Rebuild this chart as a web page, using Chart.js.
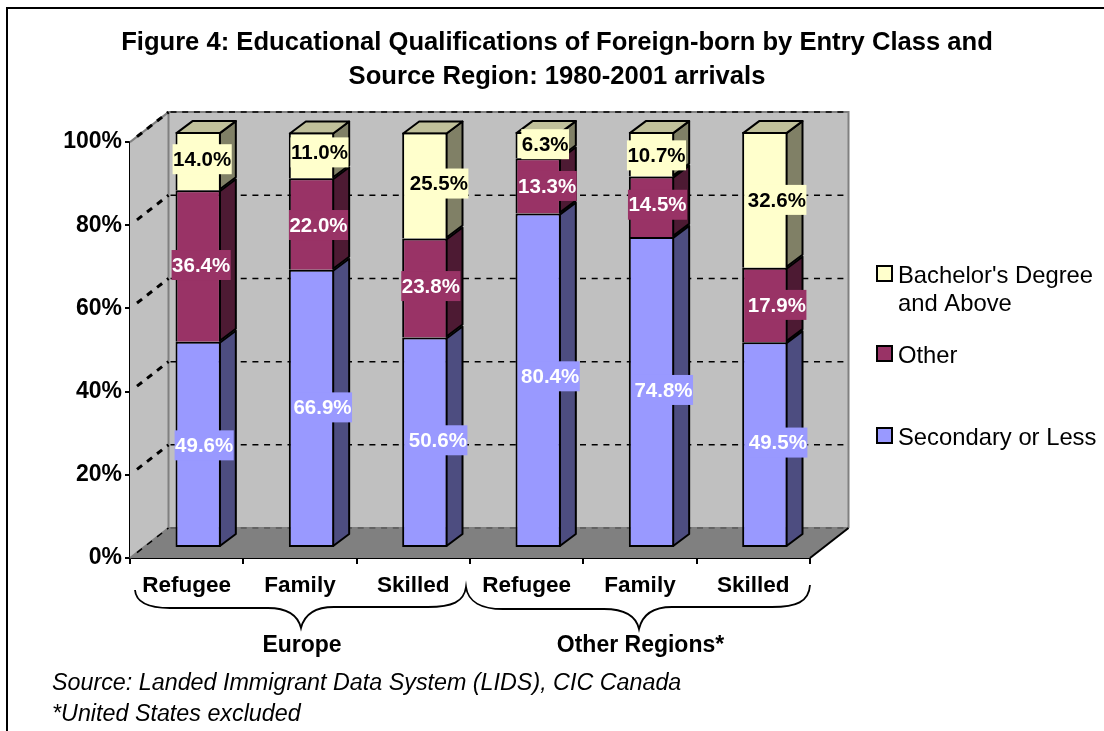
<!DOCTYPE html>
<html><head><meta charset="utf-8">
<style>html,body{margin:0;padding:0;background:#fff}canvas{display:block}</style>
<script src="https://cdn.jsdelivr.net/npm/chart.js@4"></script>
</head><body><canvas id="c" width="1104" height="731"></canvas>
<script>
const categories = ['Refugee','Family','Skilled','Refugee','Family','Skilled'];
const secondaryOrLess = [49.6,66.9,50.6,80.4,74.8,49.5];
const otherEducation = [36.4,22.0,23.8,13.3,14.5,17.9];
const bachelorAndAbove = [14.0,11.0,25.5,6.3,10.7,32.6];
const yTicks = [0,20,40,60,80,100];
const titleLines = ['Figure 4: Educational Qualifications of Foreign-born by Entry Class and','Source Region: 1980-2001 arrivals'];
const groupLabels = ['Europe','Other Regions*'];
const footnotes = ['Source: Landed Immigrant Data System (LIDS), CIC Canada','*United States excluded'];
const legendLines = [["Bachelor's Degree",'and Above'],['Other'],['Secondary or Less']];

const FONT='"Liberation Sans", Arial, sans-serif';
const WALL={dx:38.5,dy:30}, SHIFT={x:11.5,y:-10}, SIDE={x:16,y:12};
const COLORS=[{f:'#9999FF',s:'#4D4D80',t:'#fff'},{f:'#993366',s:'#4D1A33',t:'#fff'},{f:'#FFFFCC',s:'#808066',top:'#C0C09A',t:'#000'}];
// hand placement of each data label relative to its segment (series, then bar)
const NUDGE_X=[[6,11,13,12,12,13],[3,7,6,9,6,12],[4,8,14,7,5,12]];
const NUDGE_Y=[[1,-1,-2,-4,-2,-2],[-1,1,-2,0,-2,0],[-2,-3,-2,-1,1,0]];

function poly(ctx,pts,fill,stroke,lw){
  ctx.beginPath();pts.forEach((p,i)=>i?ctx.lineTo(p[0],p[1]):ctx.moveTo(p[0],p[1]));ctx.closePath();
  if(fill){ctx.fillStyle=fill;ctx.fill();}
  if(stroke){ctx.strokeStyle=stroke;ctx.lineWidth=lw||1;ctx.stroke();}
}
const scene={
  id:'scene',
  beforeDraw(chart){
    const c=chart.ctx;c.save();
    c.fillStyle='#fff';c.fillRect(0,0,chart.width,chart.height);
    c.strokeStyle='#000';c.lineWidth=2;c.beginPath();c.moveTo(7,731);c.lineTo(7,8);c.lineTo(1104,8);c.stroke();
    c.restore();
  },
  beforeDatasetsDraw(chart){
    const c=chart.ctx,a=chart.chartArea,{dx,dy}=WALL,ys=chart.scales.y;
    c.save();
    // walls and floor
    poly(c,[[a.left,a.bottom],[a.left+dx,a.bottom-dy],[a.left+dx,a.top-dy],[a.left,a.top]],'#C0C0C0');
    poly(c,[[a.left+dx,a.top-dy],[a.right+dx,a.top-dy],[a.right+dx,a.bottom-dy],[a.left+dx,a.bottom-dy]],'#C0C0C0');
    poly(c,[[a.left,a.bottom],[a.right,a.bottom],[a.right+dx,a.bottom-dy],[a.left+dx,a.bottom-dy]],'#808080');
    c.strokeStyle='#808080';c.lineWidth=2;
    c.beginPath();c.moveTo(a.left,a.top);c.lineTo(a.left+dx,a.top-dy);c.lineTo(a.right+dx,a.top-dy);c.lineTo(a.right+dx,a.bottom-dy);c.stroke();
    c.beginPath();c.moveTo(a.left+dx,a.top-dy);c.lineTo(a.left+dx,a.bottom-dy);c.lineTo(a.right+dx,a.bottom-dy);c.stroke();
    c.beginPath();c.moveTo(a.left,a.bottom);c.lineTo(a.left+dx,a.bottom-dy);c.stroke();
    c.strokeStyle='#000';c.beginPath();c.moveTo(a.right,a.bottom);c.lineTo(a.right+dx,a.bottom-dy);c.stroke();
    // grid lines
    yTicks.forEach(v=>{
      const y=ys.getPixelForValue(v);
      c.lineWidth=v===0?1:1.5;c.setLineDash([6,5.7]);
      c.strokeStyle=v===0?'#444':'#000';
      c.beginPath();c.moveTo(a.left+dx+2,y-dy);c.lineTo(a.right+dx,y-dy);c.stroke();
      c.strokeStyle='#000';
      c.lineWidth=v===0?1.5:3;c.setLineDash([6.4,6.3]);
      c.beginPath();c.moveTo(a.left+7,y-7*dy/dx);c.lineTo(a.left+dx,y-dy);c.stroke();
    });
    c.setLineDash([]);
    c.restore();
    // bars are stood back on the floor: side faces first, Chart.js draws the fronts
    c.save();
    c.translate(SHIFT.x,SHIFT.y);
    c.lineJoin='round';
    chart.data.datasets.forEach((ds,di)=>{
      chart.getDatasetMeta(di).data.forEach(b=>{
        const r=b.x+b.width/2-1,l=b.x-b.width/2+1,t=b.y+1,bs=b.base-1;
        poly(c,[[r,t],[r+SIDE.x,t-SIDE.y],[r+SIDE.x,bs-SIDE.y],[r,bs]],COLORS[di].s,'#000',2);
        if(di===chart.data.datasets.length-1)
          poly(c,[[l,t],[l+SIDE.x,t-SIDE.y],[r+SIDE.x,t-SIDE.y],[r,t]],COLORS[di].top,'#000',2);
      });
    });
  },
  afterDatasetsDraw(chart){
    const c=chart.ctx;
    c.restore();
    c.save();
    // data labels
    c.font='bold 20.5px '+FONT;c.textAlign='center';c.textBaseline='middle';
    chart.data.datasets.forEach((ds,di)=>{
      chart.getDatasetMeta(di).data.forEach((b,i)=>{
        const txt=ds.data[i].toFixed(1)+'%';
        const x=b.x+SHIFT.x+NUDGE_X[di][i],y=(b.y+b.base)/2+SHIFT.y+NUDGE_Y[di][i];
        const w=c.measureText(txt).width+1;
        c.fillStyle=COLORS[di].f;c.fillRect(x-w/2,y-15,w,30);
        c.fillStyle=COLORS[di].t;c.fillText(txt,x,y+1);
      });
    });
    // braces under the category labels
    c.strokeStyle='#000';c.lineWidth=1.8;c.beginPath();
    c.moveTo(135,590);c.bezierCurveTo(136,603,150,608,170,608);c.lineTo(268,608);c.bezierCurveTo(288,608,298,616,301,628);
    c.bezierCurveTo(304,616,314,607,334,607);c.lineTo(428,607);c.bezierCurveTo(452,607,464,602,466,587);
    c.bezierCurveTo(468,602,482,609,503,609);c.lineTo(604,609);c.bezierCurveTo(624,609,636,616,639,629);
    c.bezierCurveTo(642,616,652,607,672,607);c.lineTo(772,607);c.bezierCurveTo(796,607,809,602,810,585);
    c.stroke();
    // group labels
    c.fillStyle='#000';c.font='bold 23px '+FONT;c.textBaseline='middle';c.textAlign='center';
    c.fillText(groupLabels[0],302,646);c.fillText(groupLabels[1],640.5,646);
    // footnotes
    c.font='italic 23.3px '+FONT;c.textAlign='left';
    c.fillText(footnotes[0],52,684);c.fillText(footnotes[1],52,715);
    // legend
    const rows=[{k:2,y:266,ty:[276,304]},{k:1,y:346,ty:[356]},{k:0,y:428,ty:[438]}];
    rows.forEach((r,ri)=>{
      c.fillStyle=COLORS[r.k].f;c.strokeStyle='#000';c.lineWidth=2;
      c.fillRect(877,r.y,15,15);c.strokeRect(877,r.y,15,15);
      c.fillStyle='#000';c.font='23.8px '+FONT;c.textAlign='left';
      legendLines[ri].forEach((t,j)=>c.fillText(t,898,r.ty[j]));
    });
    c.restore();
  }
};
const makeDs=(label,data,i)=>({label,data,backgroundColor:COLORS[i].f,borderColor:'#000',borderWidth:2,
  borderSkipped:i===0?false:'bottom',clip:false,categoryPercentage:1,barPercentage:0.4});
new Chart(document.getElementById('c'),{
  type:'bar',
  data:{labels:categories,datasets:[
    makeDs('Secondary or Less',secondaryOrLess,0),
    makeDs('Other',otherEducation,1),
    makeDs("Bachelor's Degree and Above",bachelorAndAbove,2)]},
  plugins:[scene],
  options:{
    responsive:false,animation:false,
    layout:{padding:{left:10,right:0,top:0,bottom:0}},
    plugins:{
      legend:{display:false},tooltip:{enabled:false},
      title:{display:true,text:titleLines,color:'#000',font:{family:FONT,size:25.6,weight:'bold',lineHeight:1.33},padding:{top:26,bottom:48}}
    },
    scales:{
      x:{stacked:true,offset:true,
        grid:{drawOnChartArea:false,drawTicks:true,tickLength:6,color:'#000',lineWidth:2},
        border:{color:'#000',width:2},
        ticks:{color:'#000',font:{family:FONT,size:22.5,weight:'bold'},maxRotation:0,autoSkip:false,padding:8},
        afterFit(s){s.height=173;}},
      y:{stacked:true,min:0,max:100,
        afterBuildTicks(s){s.ticks=yTicks.map(v=>({value:v}));},
        grid:{drawOnChartArea:false,drawTicks:true,tickLength:5,color:'#000',lineWidth:2},
        border:{color:'#000',width:2},
        ticks:{color:'#000',font:{family:FONT,size:23,weight:'bold'},padding:3,callback:v=>v+'%'},
        afterFit(s){s.width=120;}},
      spare:{position:'right',display:true,grid:{display:false,drawTicks:false},border:{display:false},ticks:{display:false},afterFit(s){s.width=294;}}
    }
  }
});
</script></body></html>
